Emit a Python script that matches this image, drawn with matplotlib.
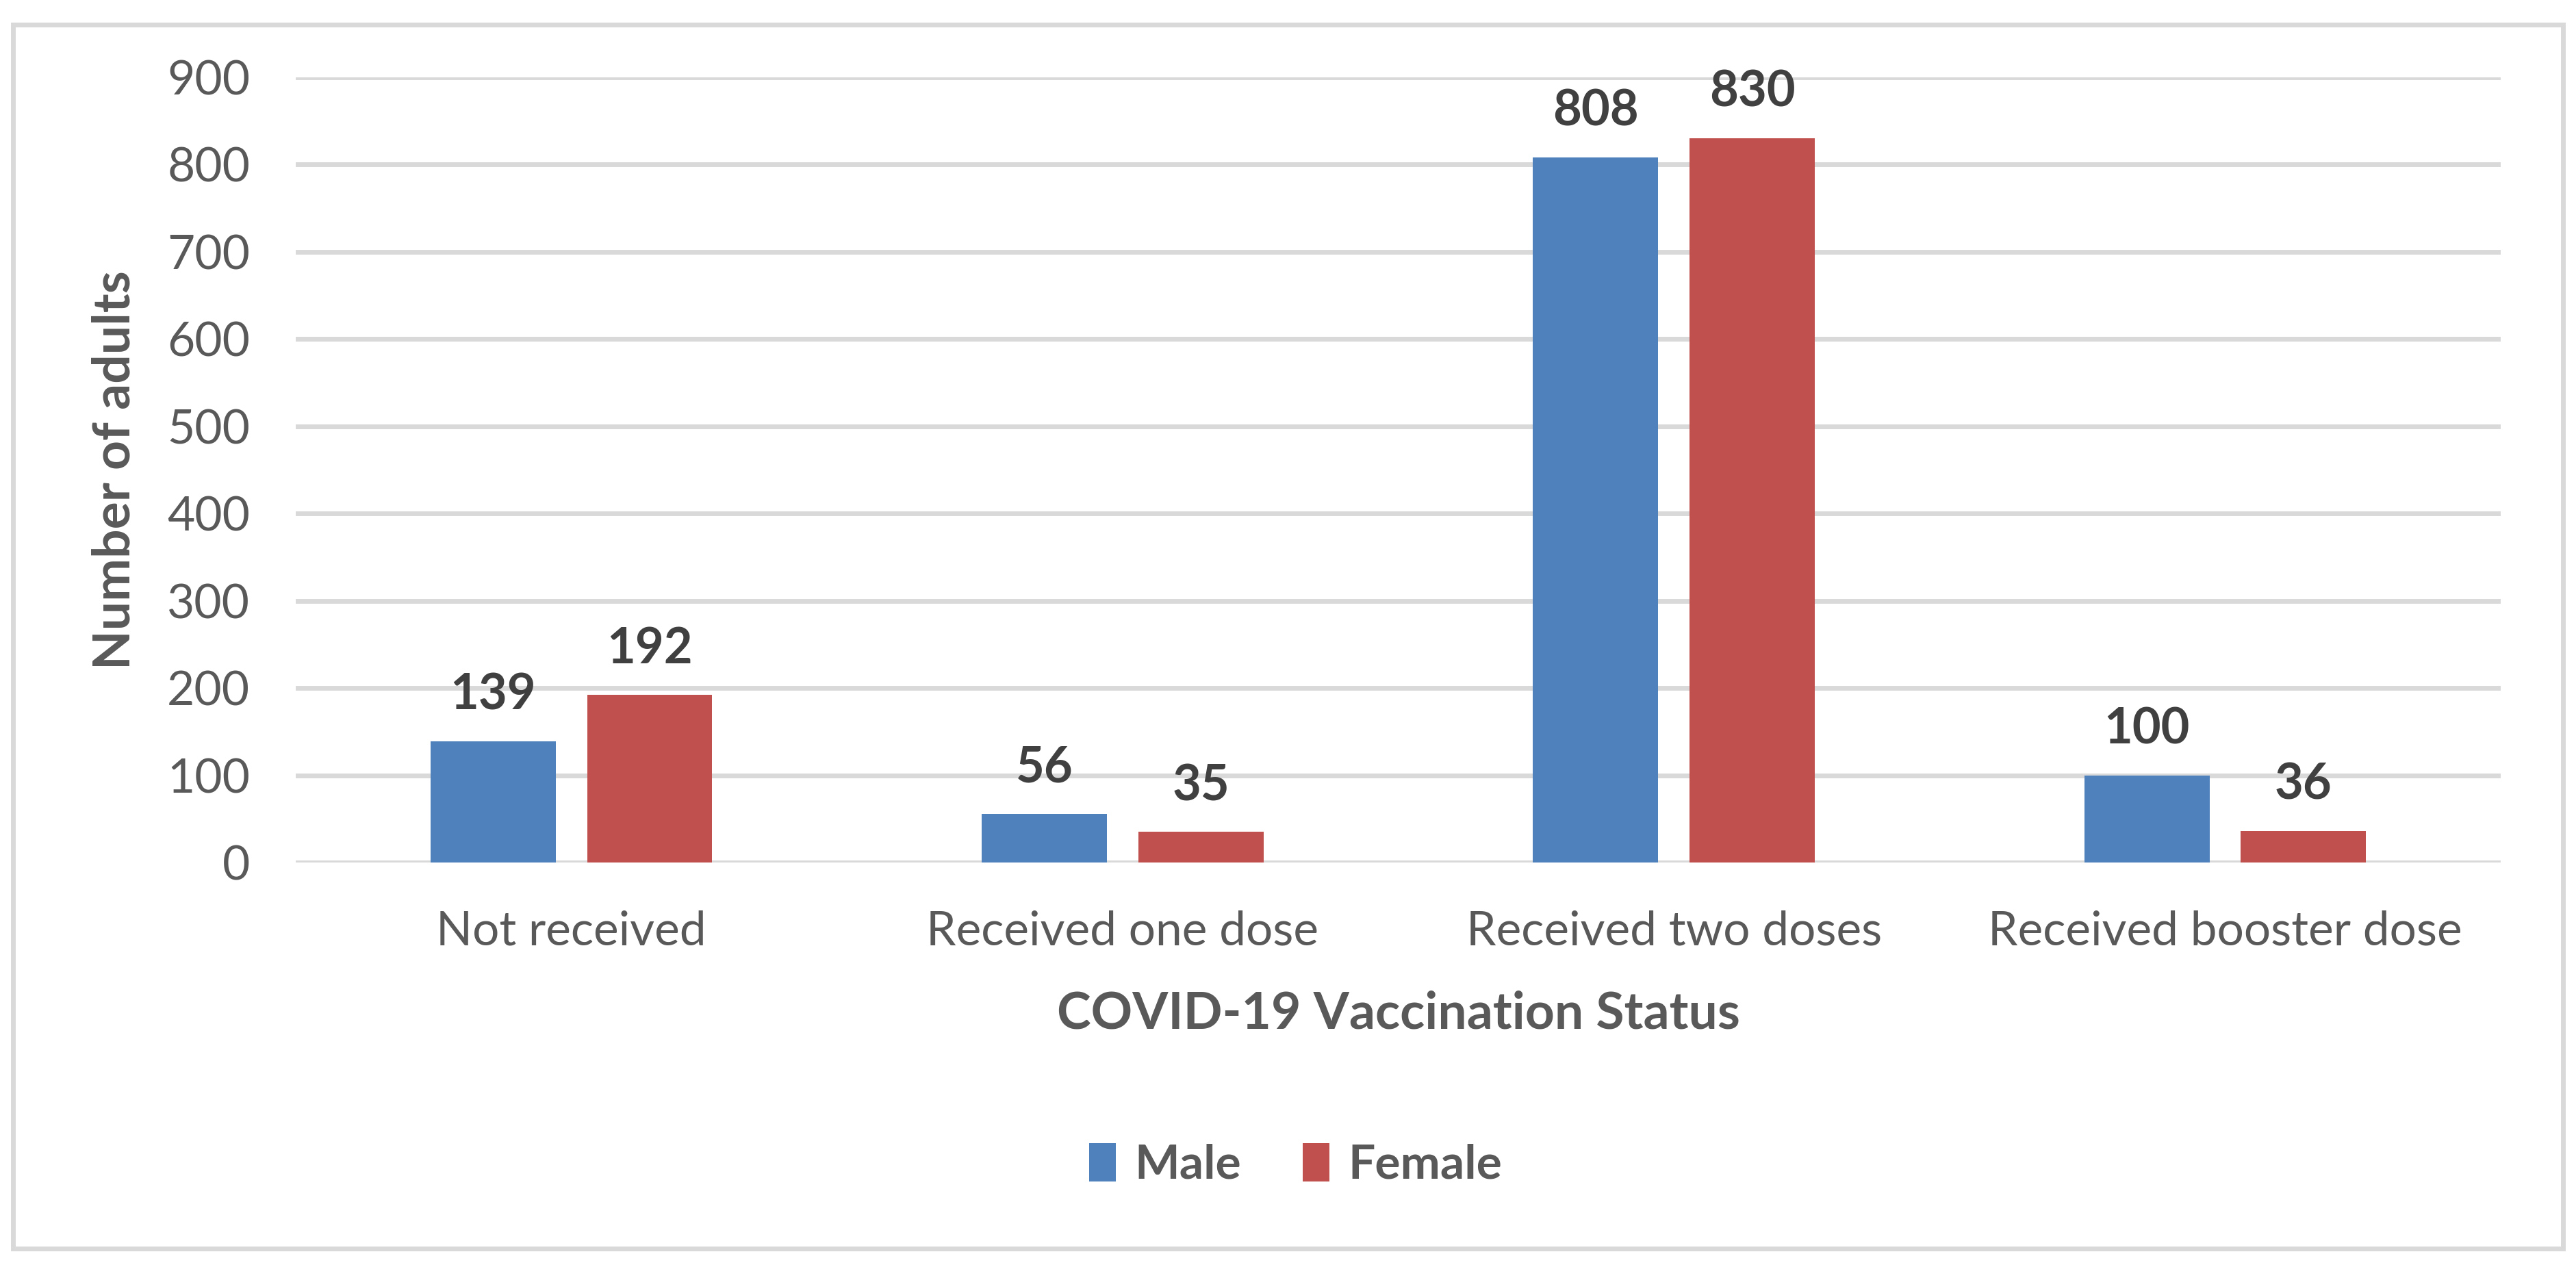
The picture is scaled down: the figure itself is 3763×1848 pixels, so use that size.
import matplotlib
matplotlib.use("Agg")
import matplotlib.pyplot as plt
import numpy as np
from matplotlib.patches import Rectangle

categories = ["Not received", "Received one dose", "Received two doses", "Received booster dose"]
male = [139, 56, 808, 100]
female = [192, 35, 830, 36]
series_names = ["Male", "Female"]
yticks = [0, 100, 200, 300, 400, 500, 600, 700, 800, 900]

plt.rcParams['font.family'] = ['Lato', 'DejaVu Sans']
TXT = '#595959'
LBL = '#404040'
BLUE = '#4F81BD'
RED = '#C0504D'
GRID = '#D9D9D9'

fig = plt.figure(figsize=(3763/200, 1848/200), dpi=200)
ax = fig.add_axes([0.1148, 0.3182, 0.9708-0.1148, 0.9389-0.3182])

x = np.arange(len(categories))
w = 0.227
off = 0.142
b1 = ax.bar(x - off, male, w, color=BLUE, label=series_names[0], zorder=3)
b2 = ax.bar(x + off, female, w, color=RED, label=series_names[1], zorder=3)

for bars in (b1, b2):
    for r in bars:
        ax.annotate(f"{int(r.get_height())}", (r.get_x() + r.get_width()/2, r.get_height()),
                    xytext=(0, 12), textcoords='offset points', ha='center', va='bottom',
                    fontsize=26, fontweight='bold', color=LBL)

ax.set_xlim(-0.5, len(categories) - 0.5)
ax.set_ylim(0, 900)
ax.set_yticks(yticks)
ax.set_xticks(x)
ax.set_xticklabels(categories)
ax.yaxis.grid(True, color=GRID, linewidth=2.5, zorder=0)
ax.set_axisbelow(True)
for s in ax.spines.values():
    s.set_visible(False)
ax.tick_params(axis='both', length=0, labelsize=25, labelcolor=TXT)
ax.tick_params(axis='y', pad=24)
ax.tick_params(axis='x', pad=25)

fig.text(0.0447, 0.6286, "Number of adults", rotation=90, ha='center', va='center',
         fontsize=27, fontweight='bold', color=TXT)
fig.text(0.5428, 0.1986, "COVID-19 Vaccination Status", ha='center', va='center',
         fontsize=27, fontweight='bold', color=TXT)

leg = fig.legend(loc='center', bbox_to_anchor=(0.503, 0.079), ncol=2, frameon=False,
                 fontsize=25, handlelength=0.55, handleheight=0.85, columnspacing=1.3,
                 handletextpad=0.4)
for t in leg.get_texts():
    t.set_color(TXT)
    t.set_fontweight('bold')

fig.patches.append(Rectangle((19/3763, 1-1824/1848), (3744-19)/3763, (1824-36)/1848,
                             transform=fig.transFigure, fill=False, edgecolor=GRID,
                             linewidth=2.5, zorder=10))

fig.savefig("out.png", dpi=200, facecolor='white')
